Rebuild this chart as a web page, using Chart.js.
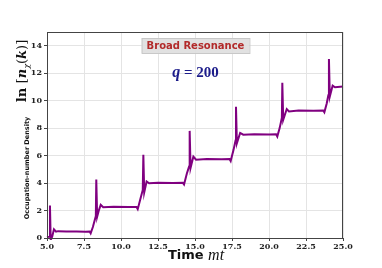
<!DOCTYPE html>
<html>
<head>
<meta charset="utf-8">
<script src="https://cdn.jsdelivr.net/npm/chart.js@4"></script>
<style>
  html, body { margin: 0; padding: 0; background: #fff; }
  #wrap { width: 382px; height: 268px; }
</style>
</head>
<body>
<div id="wrap"><canvas id="c" width="382" height="268"></canvas></div>
<script>
// time mt
const times = [
  5.0, 5.15, 5.2, 5.25, 5.35, 5.47, 5.61, 5.75, 6.3, 7.0, 7.6, 7.88,
  7.95, 8.1, 8.3, 8.33, 8.39, 8.5, 8.63, 8.8, 9.5, 10.5, 11.05,
  11.13, 11.3, 11.47, 11.51, 11.57, 11.73, 11.9, 12.5, 13.5, 14.18,
  14.26, 14.45, 14.6, 14.64, 14.7, 14.89, 15.07, 15.8, 16.8, 17.33,
  17.41, 17.6, 17.74, 17.77, 17.83, 18.05, 18.26, 19.0, 20.0, 20.48,
  20.56, 20.72, 20.87, 20.9, 20.96, 21.2, 21.35, 22.0, 23.0, 23.66,
  23.74, 23.9, 24.01, 24.05, 24.11, 24.3, 24.46, 25.0
];
// ln[n_chi(k)]
const lnN = [
  0.05, 0.1, 2.36, -0.15, 0.1, 0.63, 0.46, 0.5, 0.47, 0.48, 0.46, 0.47,
  0.34, 0.8, 1.6, 4.25, 1.55, 2.0, 2.41, 2.24, 2.27, 2.25, 2.26,
  2.1, 2.8, 3.5, 6.06, 3.33, 4.12, 3.99, 4.03, 4.0, 4.02,
  3.9, 4.7, 5.2, 7.8, 5.1, 5.93, 5.7, 5.75, 5.74, 5.75,
  5.6, 6.4, 7.1, 9.55, 6.9, 7.65, 7.52, 7.55, 7.53, 7.55,
  7.39, 8.0, 8.75, 11.3, 8.6, 9.39, 9.22, 9.28, 9.27, 9.28,
  9.15, 9.8, 10.4, 13.04, 10.3, 11.1, 10.98, 11.04
];
const xTicks = [5.0, 7.5, 10.0, 12.5, 15.0, 17.5, 20.0, 22.5, 25.0];
const yTicks = [0, 2, 4, 6, 8, 10, 12, 14];

const points = times.map((t, i) => ({ x: t, y: lnN[i] }));

const tickFont = { family: "'DejaVu Serif'", size: 8, weight: "bold" };

// frame + annotations drawn on top of the chart
const decor = {
  id: "decor",
  afterDraw(chart) {
    const ctx = chart.ctx;
    const a = chart.chartArea;
    ctx.save();
    ctx.strokeStyle = "#444";
    ctx.lineWidth = 1;
    ctx.strokeRect(a.left + 0.5, a.top + 0.5, a.right - a.left - 1, a.bottom - a.top);

    // title box
    ctx.font = "bold 10px 'DejaVu Sans'";
    const title = "Broad Resonance";
    const tw = ctx.measureText(title).width;
    const cx = 195.5;
    ctx.fillStyle = "rgba(222,222,222,0.9)";
    ctx.fillRect(cx - tw / 2 - 5, 38, tw + 10, 15);
    ctx.strokeStyle = "#c8c8c8";
    ctx.strokeRect(cx - tw / 2 - 5 + 0.5, 38.5, tw + 10, 15);
    ctx.fillStyle = "#b22a2a";
    ctx.textAlign = "center";
    ctx.textBaseline = "middle";
    ctx.fillText(title, cx, 46);

    // q = 200
    ctx.fillStyle = "#1c1c8a";
    ctx.textAlign = "left";
    ctx.font = "italic bold 16px 'Liberation Serif'";
    const qw = ctx.measureText("q").width;
    ctx.font = "bold 15px 'Liberation Serif'";
    const rest = " = 200";
    const rw = ctx.measureText(rest).width;
    const qx = 195.5 - (qw + rw) / 2;
    ctx.font = "italic bold 16px 'Liberation Serif'";
    ctx.fillText("q", qx, 73);
    ctx.font = "bold 15px 'Liberation Serif'";
    ctx.fillText(rest, qx + qw, 73);

    // x axis title
    ctx.fillStyle = "#111";
    ctx.font = "bold 13px 'DejaVu Sans'";
    const t1 = "Time ";
    const w1 = ctx.measureText(t1).width;
    ctx.font = "italic 16px 'Liberation Serif'";
    const w2 = ctx.measureText("mt").width;
    const sx = 196 - (w1 + w2) / 2;
    ctx.font = "bold 13px 'DejaVu Sans'";
    ctx.fillText(t1, sx, 256);
    ctx.font = "italic 16px 'Liberation Serif'";
    ctx.fillText("mt", sx + w1, 256);

    // y axis titles (rotated)
    ctx.translate(23, 71);
    ctx.rotate(-Math.PI / 2);
    ctx.textAlign = "left";
    const parts = [
      ["ln ", "bold 13px 'DejaVu Serif'", 0],
      ["[", "13px 'DejaVu Serif'", 0],
      ["n", "italic bold 13px 'DejaVu Serif'", 0],
      ["χ", "italic 8px 'DejaVu Serif'", 4],
      ["(", "13px 'DejaVu Serif'", 0],
      ["k", "italic bold 13px 'DejaVu Serif'", 0],
      [")]", "13px 'DejaVu Serif'", 0]
    ];
    let total = 0;
    parts.forEach(p => { ctx.font = p[1]; total += ctx.measureText(p[0]).width; });
    let px = -total / 2;
    parts.forEach(p => {
      ctx.font = p[1];
      ctx.fillText(p[0], px, p[2]);
      px += ctx.measureText(p[0]).width;
    });
    ctx.restore();

    ctx.save();
    ctx.translate(27, 168);
    ctx.rotate(-Math.PI / 2);
    ctx.fillStyle = "#111";
    ctx.font = "bold 6.5px 'DejaVu Sans'";
    ctx.textAlign = "center";
    ctx.textBaseline = "middle";
    ctx.fillText("Occupation-number Density", 0, 0);
    ctx.restore();
  }
};

new Chart(document.getElementById("c"), {
  type: "scatter",
  data: {
    datasets: [{
      data: points,
      showLine: true,
      borderColor: "#800080",
      borderWidth: 2,
      pointRadius: 0,
      tension: 0,
      clip: 2
    }]
  },
  options: {
    responsive: false,
    animation: false,
    layout: { padding: { left: 0, top: 32, right: 39, bottom: 0 } },
    plugins: { legend: { display: false }, tooltip: { enabled: false } },
    scales: {
      x: {
        type: "linear",
        min: 5, max: 25,
        afterBuildTicks: s => { s.ticks = xTicks.map(v => ({ value: v })); },
        afterFit: s => { s.height = 30; },
        ticks: { font: tickFont, color: "#222", padding: 1, maxRotation: 0,
                 callback: v => v.toFixed(1) },
        grid: { color: "#e4e4e4", tickLength: 3, tickColor: "#444" },
        border: { display: false }
      },
      y: {
        min: 0, max: 15,
        afterBuildTicks: s => { s.ticks = yTicks.map(v => ({ value: v })); },
        afterFit: s => { s.width = 47; },
        ticks: { font: tickFont, color: "#222", padding: 2 },
        grid: { color: "#e4e4e4", tickLength: 3, tickColor: "#444" },
        border: { display: false }
      }
    }
  },
  plugins: [decor]
});
</script>
</body>
</html>
